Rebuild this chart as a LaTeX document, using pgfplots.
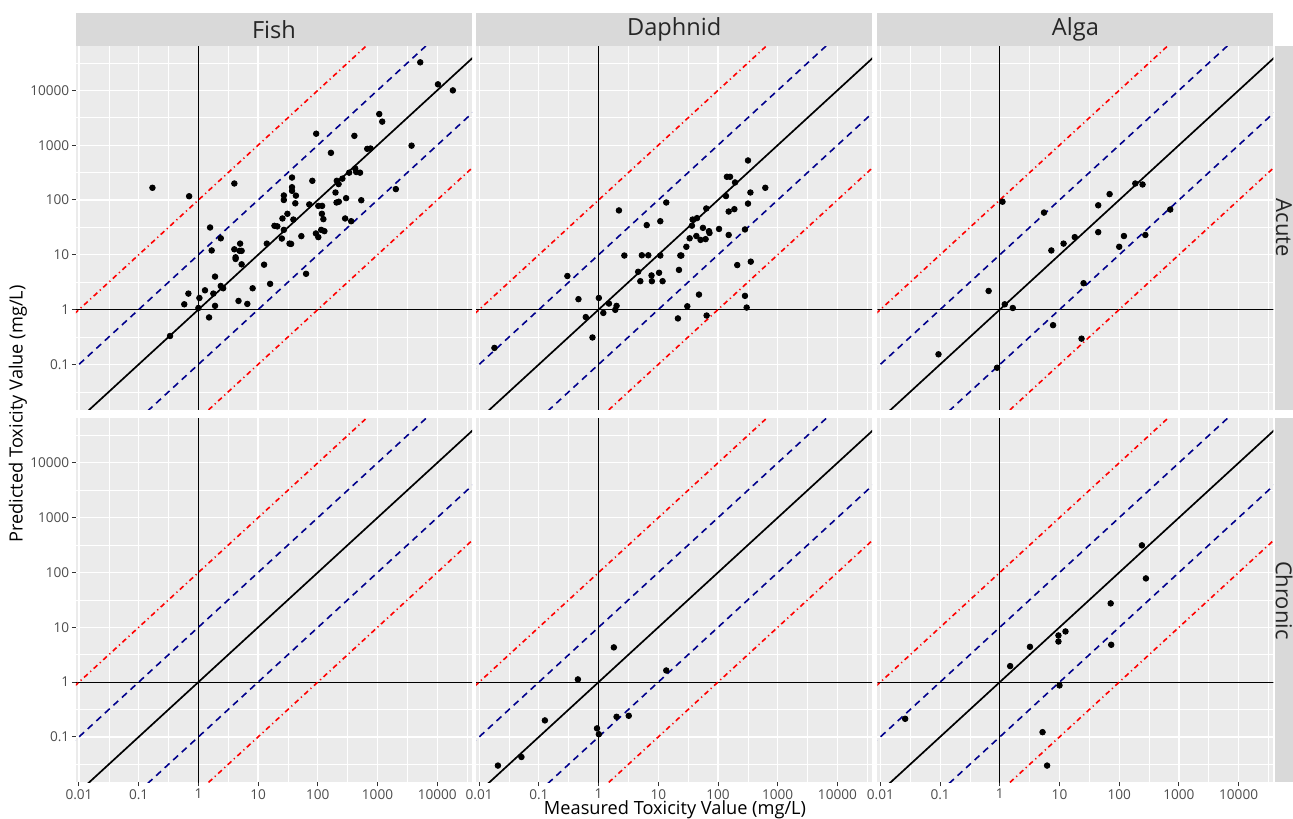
\documentclass[border=0pt]{standalone}
\usepackage{pgfplots}
\pgfplotsset{compat=1.18}
\usepackage{fontspec}
\setmainfont{Open Sans}

\definecolor{panelbg}{HTML}{EBEBEB}
\definecolor{stripbg}{HTML}{D9D9D9}
\definecolor{ticklab}{HTML}{4D4D4D}
\definecolor{tickcol}{HTML}{333333}
\definecolor{dblue}{HTML}{00008B}

% reference lines: 1:1, 10-fold, 100-fold, and the unit cross
\newcommand{\reflines}{%
  \addplot[black, line width=0.6pt] coordinates {(1e-3,1) (1e6,1)};
  \addplot[black, line width=0.6pt] coordinates {(1,1e-3) (1,1e6)};
  \addplot[red, line width=0.8pt, dash pattern=on 2.5pt off 1.7pt on 0.6pt off 1.7pt] coordinates {(1e-4,1e-2) (1e5,1e7)};
  \addplot[dblue, line width=0.8pt, dash pattern=on 3.3pt off 2.5pt] coordinates {(1e-4,1e-3) (1e5,1e6)};
  \addplot[black, line width=0.85pt] coordinates {(1e-4,1e-4) (1e5,1e5)};
  \addplot[dblue, line width=0.8pt, dash pattern=on 3.3pt off 2.5pt] coordinates {(1e-4,1e-5) (1e5,1e4)};
  \addplot[red, line width=0.8pt, dash pattern=on 2.5pt off 1.7pt on 0.6pt off 1.7pt] coordinates {(1e-4,1e-6) (1e5,1e3)};
}

\begin{document}
\begin{tikzpicture}
\path[use as bounding box] (0,0) rectangle (646.5pt,409pt);
\clip (0,0) rectangle (646.5pt,409pt);

\pgfplotsset{
  scale only axis, width=198pt, height=181.95pt,
  xmin=0.008913, xmax=38282, ymin=0.014791, ymax=64565,
  axis background/.style={fill=panelbg},
  axis line style={draw=none},
  xtick={0.01,0.1,1,10,100,1000,10000},
  ytick={0.1,1,10,100,1000,10000},
  minor xtick={0.0316228,0.316228,3.16228,31.6228,316.228,3162.28,31622.8},
  minor ytick={0.0316228,0.316228,3.16228,31.6228,316.228,3162.28,31622.8},
  grid=both,
  major grid style={white, line width=0.6pt},
  minor grid style={white, line width=0.3pt},
  tick align=outside, tick pos=left,
  major tick length=2pt, minor tick length=0pt,
  tick style={tickcol, line width=0.5pt},
  tick label style={font=\fontsize{6.8}{8}\selectfont, text=ticklab, inner sep=1.2pt},
}

% ---- Acute row ----
\begin{loglogaxis}[anchor=north west, at={(38pt,386pt)},
  xticklabels={}, xtick style={draw=none},
  yticklabels={0.1,1,10,100,1000,10000}]
\reflines
\addplot[only marks, mark=*, mark size=1.4pt, black] coordinates {
(0.17,167)(0.70,117)(4.0,200)(1.57,31.5)(2.37,20)(1.67,12)(1.9,4.0)(2.37,2.7)
(2.6,2.45)(1.29,2.25)(1.78,1.96)(0.68,1.96)(0.58,1.25)(1.04,1.63)(1.0,1.07)
(1.51,0.72)(1.9,1.17)(0.335,0.33)(4.7,1.44)(6.6,1.27)(8.1,2.45)(15.9,2.95)
(12.6,6.6)(4.0,12.6)(4.2,9.0)(4.2,8.4)(5.0,16)(4.9,11.8)(5.3,11.8)(5.3,6.7)
(14,16)(18.8,33.8)(21,33)(25,19.8)(27,28.5)(25.6,46)(31,56)(27,100)(27,121)
(37,257)(37,171)(37,147)(43,120)(42,87)(39,44)(33.6,16)(35.7,15.8)(53,21.9)
(63.6,4.5)(72,83)(81,224)(94,1620)(93,24.5)(102,21)(102,78)(118,78)(117,56)
(124,44.7)(114,28.5)(129,27)(166,725)(198,137)(208,224)(223,195)(206,90)
(225,93)(258,245)(298,108)(287,46)(362,41)(335,315)(410,1480)(423,376)
(440,324)(510,315)(535,99)(673,858)(763,870)(1070,3700)(1200,2690)(2030,158)
(3720,980)(5200,32500)(10300,12900)(18300,10000)
};
\end{loglogaxis}

\begin{loglogaxis}[anchor=north west, at={(238.1pt,386pt)},
  xticklabels={}, xtick style={draw=none},
  yticklabels={}, ytick style={draw=none}]
\reflines
\addplot[only marks, mark=*, mark size=1.4pt, black] coordinates {
(0.018,0.20)(0.30,4.1)(0.46,1.55)(0.61,0.73)(0.79,0.31)(1.01,1.63)(1.2,0.87)
(1.49,1.29)(1.9,0.99)(2.0,1.17)(2.19,64.5)(2.7,9.7)(4.6,4.9)(5.0,3.3)(5.3,9.8)
(6.4,34.8)(6.8,9.8)(7.7,4.2)(7.8,3.3)(10.3,4.7)(10.8,9.7)(10.8,41)(11.8,3.3)
(13.6,90)(21.3,0.69)(22.2,5.3)(23.4,9.7)(24.3,9.7)(29.5,14)(30.6,1.15)(33.5,20)
(36.6,34)(37.6,44)(43.4,22)(44.5,46.7)(48,1.88)(51,18.7)(56,31)(62,19.3)
(63.6,70)(64.5,0.78)(70.6,27)(72,25)(104,29.6)(136,118)(141,265)(159,265)
(151,61.6)(151,23)(188,68)(193,209)(210,6.5)(283,29)(283,1.78)(302,1.09)
(318,526)(318,86)(349,137)(354,7.5)(620,167)
};
\end{loglogaxis}

\begin{loglogaxis}[anchor=north west, at={(438.7pt,386pt)},
  xticklabels={}, xtick style={draw=none},
  yticklabels={}, ytick style={draw=none}]
\reflines
\addplot[only marks, mark=*, mark size=1.4pt, black] coordinates {
(0.094,0.153)(0.65,2.19)(0.90,0.087)(1.11,93)(1.21,1.25)(1.65,1.07)(5.5,59)
(7.3,12)(7.8,0.52)(11.7,16)(18,21)(23.4,0.295)(25.3,3.03)(44.5,80)(44.5,25.9)
(69,128)(100,14)(120,22)(186,200)(246,192)(274,23)(716,67)
};
\end{loglogaxis}

% ---- Chronic row ----
\begin{loglogaxis}[anchor=north west, at={(38pt,199.75pt)},
  xticklabels={0.01,0.1,1,10,100,1000,10000},
  yticklabels={0.1,1,10,100,1000,10000}]
\reflines
\end{loglogaxis}

\begin{loglogaxis}[anchor=north west, at={(238.1pt,199.75pt)},
  xticklabels={0.01,0.1,1,10,100,1000,10000},
  yticklabels={}, ytick style={draw=none}]
\reflines
\addplot[only marks, mark=*, mark size=1.4pt, black] coordinates {
(0.0206,0.030)(0.051,0.043)(0.126,0.20)(0.45,1.12)(0.94,0.143)(1.01,0.112)
(1.8,4.3)(2.0,0.233)(3.2,0.243)(13.6,1.63)
};
\end{loglogaxis}

\begin{loglogaxis}[anchor=north west, at={(438.7pt,199.75pt)},
  xticklabels={0.01,0.1,1,10,100,1000,10000},
  yticklabels={}, ytick style={draw=none}]
\reflines
\addplot[only marks, mark=*, mark size=1.4pt, black] coordinates {
(0.026,0.214)(1.49,1.96)(3.2,4.4)(9.6,7.1)(9.6,5.5)(12.6,8.4)(10,0.87)
(5.2,0.122)(6.2,0.030)(72,27.3)(73.5,4.8)(240,313)(280,78)
};
\end{loglogaxis}

% ---- facet strips ----
\fill[stripbg] (38pt,386pt) rectangle (236pt,402.3pt);
\fill[stripbg] (238.1pt,386pt) rectangle (436.1pt,402.3pt);
\fill[stripbg] (438.7pt,386pt) rectangle (636.7pt,402.3pt);
\fill[stripbg] (637.25pt,204.05pt) rectangle (660pt,386pt);
\fill[stripbg] (637.25pt,17.8pt) rectangle (660pt,199.75pt);

\node[font=\fontsize{11.8}{13}\selectfont, text=black!85] at (137pt,394.2pt) {Fish};
\node[font=\fontsize{11.8}{13}\selectfont, text=black!85] at (337.1pt,394.2pt) {Daphnid};
\node[font=\fontsize{11.8}{13}\selectfont, text=black!85] at (537.7pt,394.2pt) {Alga};
\node[font=\fontsize{11}{13}\selectfont, text=black!85, rotate=-90, inner sep=0pt] at (642pt,295pt) {Acute};
\node[font=\fontsize{11}{13}\selectfont, text=black!85, rotate=-90, inner sep=0pt] at (642pt,108.8pt) {Chronic};

% ---- axis titles ----
\node[font=\fontsize{9.1}{11}\selectfont, anchor=base] at (337.5pt,1.8pt) {Measured Toxicity Value (mg/L)};
\node[font=\fontsize{9.1}{11}\selectfont, rotate=90] at (9pt,202pt) {Predicted Toxicity Value (mg/L)};
\end{tikzpicture}
\end{document}
